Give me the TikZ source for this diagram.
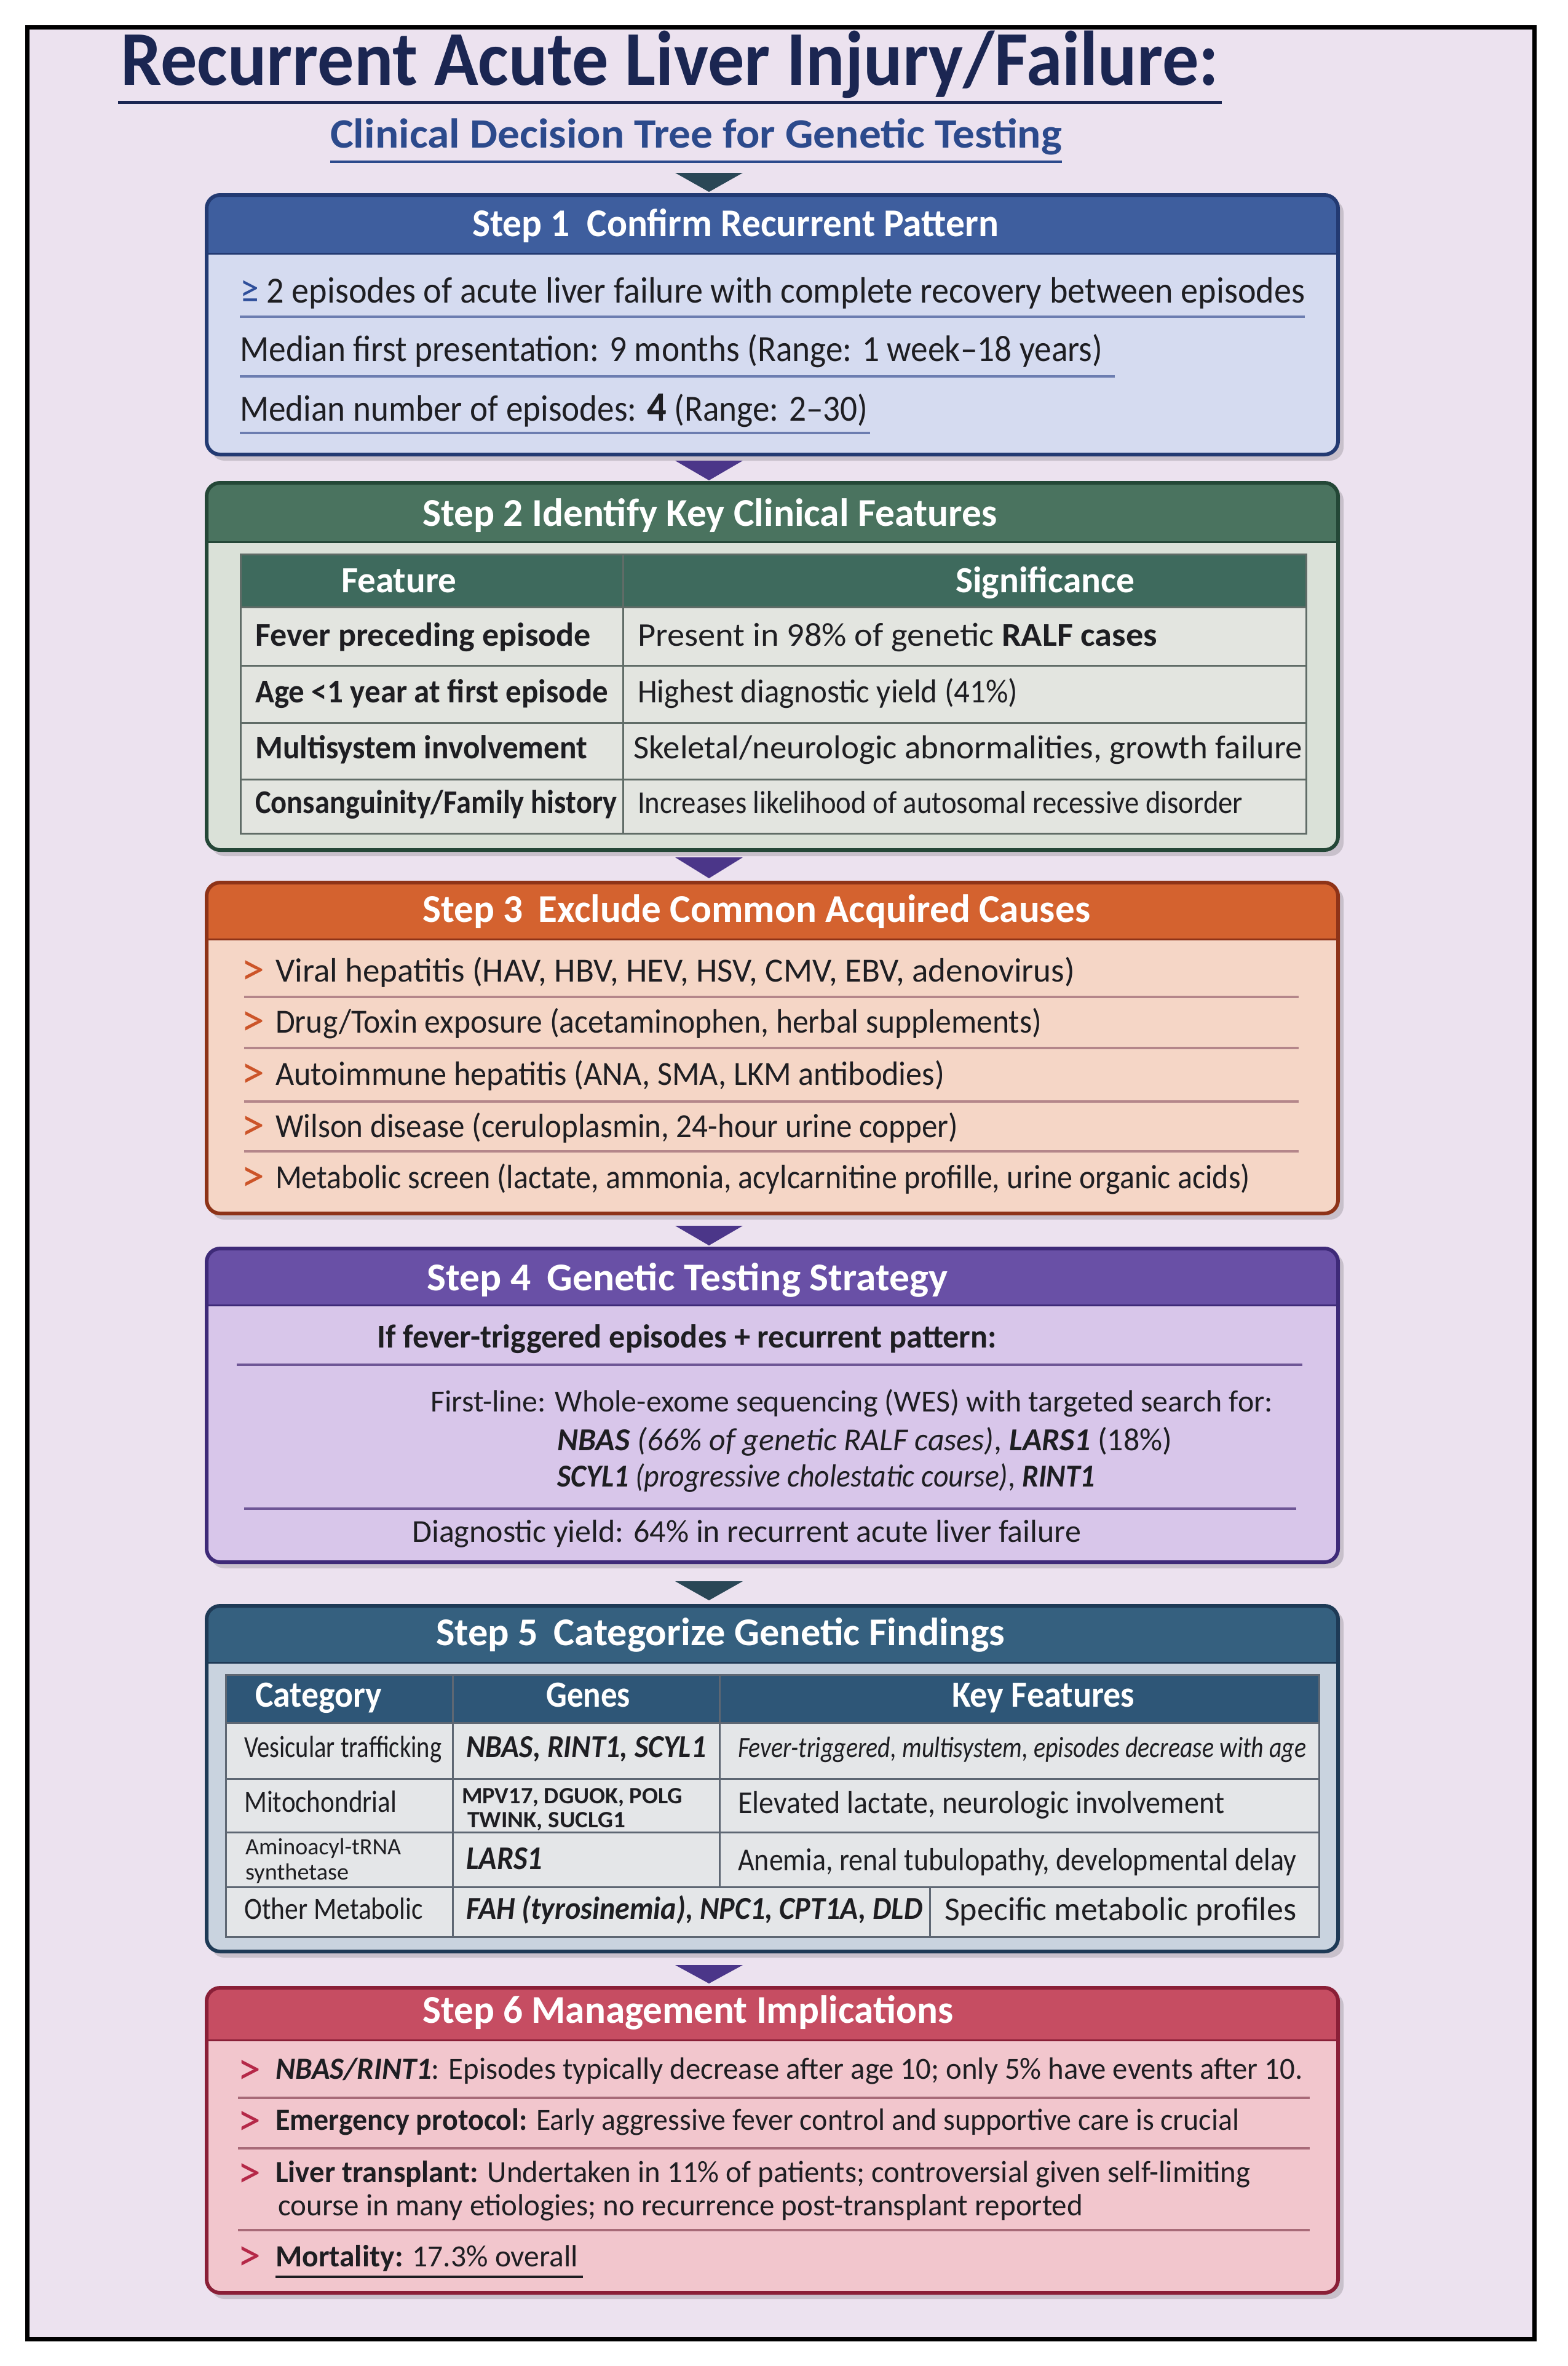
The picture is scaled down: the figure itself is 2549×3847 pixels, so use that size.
\documentclass[tikz,border=0pt]{standalone}
\usepackage{fontspec}
\setmainfont{Carlito}
\usepackage{graphicx}

\definecolor{pagebg}{HTML}{ECE2EF}
\definecolor{titlec}{HTML}{1B2652}
\definecolor{subc}{HTML}{2C4A8C}
\definecolor{tri1}{HTML}{2A4756}
\definecolor{tri2}{HTML}{4B3689}
\definecolor{h1c}{HTML}{3E5E9E}
\definecolor{b1c}{HTML}{D5DBF0}
\definecolor{e1c}{HTML}{233A72}
\definecolor{u1c}{HTML}{6C7DB0}
\definecolor{geqc}{HTML}{2E4E9A}
\definecolor{h2c}{HTML}{4A735F}
\definecolor{b2c}{HTML}{DAE1D8}
\definecolor{e2c}{HTML}{244737}
\definecolor{th2c}{HTML}{3E6A5D}
\definecolor{c2c}{HTML}{E3E5E0}
\definecolor{g2c}{HTML}{606C67}
\definecolor{h3c}{HTML}{D4622F}
\definecolor{b3c}{HTML}{F5D6C6}
\definecolor{e3c}{HTML}{8E3318}
\definecolor{u3c}{HTML}{B4868A}
\definecolor{a3c}{HTML}{CC5428}
\definecolor{h4c}{HTML}{6950A6}
\definecolor{b4c}{HTML}{D8C6EA}
\definecolor{e4c}{HTML}{3E2A78}
\definecolor{u4c}{HTML}{6E5696}
\definecolor{h5c}{HTML}{35607F}
\definecolor{b5c}{HTML}{C9D3DF}
\definecolor{e5c}{HTML}{1E3A56}
\definecolor{th5c}{HTML}{2E5677}
\definecolor{c5c}{HTML}{E4E6E8}
\definecolor{g5c}{HTML}{5E6773}
\definecolor{h6c}{HTML}{C64D62}
\definecolor{b6c}{HTML}{F2C6CD}
\definecolor{e6c}{HTML}{8A1F37}
\definecolor{u6c}{HTML}{A86A78}
\definecolor{a6c}{HTML}{B52848}
\definecolor{ink}{HTML}{1E1E22}

\newsavebox\fitbox
\newlength\fitlen
\newcommand\fitw[2]{\sbox\fitbox{#2}\setlength\fitlen{\wd\fitbox}\pgfmathsetmacro\fitr{#1/\fitlen}\scalebox{\fitr}[1]{\usebox\fitbox}}
\newcommand\fsz[1]{\fontsize{#1}{#1}\selectfont}
\newcommand\mytx[5]{\node[txt,font={#3}] (#1) at (#2) {\fitw{#4}{#5}};}
\newcommand\myhd[4]{\node[hdr] (#1) at (#2) {\fitw{#3}{#4}};}
\newcommand\myth[4]{\node[thd] (#1) at (#2) {\fitw{#3}{#4}};}
\newcommand\stepbox[6]{%
  \fill[black,opacity=.15,rounded corners=22] (343,#1+7) rectangle (2185,#3+10);
  \fill[#5,rounded corners=22] (336,#1) rectangle (2176,#3);
  \begin{scope}\clip (330,#1-10) rectangle (2182,#2);
  \fill[#4,rounded corners=22] (336,#1) rectangle (2176,#3);\end{scope}
  \draw[#6,line width=3] (336,#2) -- (2176,#2);
  \draw[#6,line width=6,rounded corners=22] (336,#1) rectangle (2176,#3);}

\begin{document}
\begin{tikzpicture}[x=1pt,y=-1pt,
  txt/.style={anchor=base west,inner sep=0pt,text=ink},
  hdr/.style={anchor=base west,inner sep=0pt,text=white,font={\fsz{64}\bfseries}},
  thd/.style={anchor=base west,inner sep=0pt,text=white,font={\fsz{60}\bfseries}},
  arr/.style={anchor=base west,inner sep=0pt,font={\fsz{76}}}]
\useasboundingbox (0,0) rectangle (2549,3847);
\fill[white] (0,0) rectangle (2549,3847);
\fill[pagebg] (44,44) rectangle (2495,3803);
\draw[black,line width=7] (44,44) rectangle (2495,3803);

% title
\node[txt,text=titlec,font={\fsz{126}\bfseries}] (title) at (196,138) {\fitw{1786}{Recurrent Acute Liver Injury/Failure:}};
\draw[titlec,line width=5] (192,166) -- (1987,166);
\node[txt,text=subc,font={\fsz{68}\bfseries}] (subtitle) at (537,240) {\fitw{1190}{Clinical Decision Tree for Genetic Testing}};
\draw[subc,line width=4] (537,263) -- (1727,263);

% triangles
\fill[tri1] (1098,281) -- (1208,281) -- (1153,312) -- cycle;
\fill[tri2] (1098,749) -- (1208,749) -- (1153,781) -- cycle;
\fill[tri2] (1098,1394) -- (1208,1394) -- (1153,1428) -- cycle;
\fill[tri2] (1098,1993) -- (1208,1993) -- (1153,2025) -- cycle;
\fill[tri1] (1098,2571) -- (1208,2571) -- (1153,2602) -- cycle;
\fill[tri2] (1098,3195) -- (1208,3195) -- (1153,3225) -- cycle;

% ---------- Step 1
\stepbox{317}{412}{739}{h1c}{b1c}{e1c}
\myhd{s1}{768,384}{856}{Step 1\hspace{.45em}Confirm Recurrent Pattern}
\mytx{n1a}{390,492}{\fsz{60}}{1732}{\textcolor{geqc}{\fsz{66}≥} 2 episodes of acute liver failure with complete recovery between episodes}
\mytx{n1b}{390,587}{\fsz{60}}{1403}{Median first presentation: 9 months (Range: 1 week–18 years)}
\mytx{n1c}{390,684}{\fsz{60}}{1021}{Median number of episodes: {\bfseries\fsz{68}4} (Range: 2–30)}
\draw[u1c,line width=4] (390,515) -- (2122,515);
\draw[u1c,line width=4] (390,612) -- (1813,612);
\draw[u1c,line width=4] (390,704) -- (1415,704);

% ---------- Step 2
\stepbox{785}{881}{1382}{h2c}{b2c}{e2c}
\myhd{s2}{687,855}{934}{Step 2 Identify Key Clinical Features}
\fill[th2c] (391,901) rectangle (2124,987);
\fill[c2c] (391,987) rectangle (2124,1355);
\foreach \yy in {987,1082,1175,1267} \draw[g2c,line width=3] (391,\yy) -- (2124,\yy);
\draw[g2c,line width=3] (1013,901) -- (1013,1355);
\draw[g2c,line width=3] (391,901) rectangle (2124,1355);
\myth{f1}{555,963}{187}{Feature}
\myth{f2}{1554,963}{291}{Significance}
\mytx{r1a}{415,1050}{\fsz{54}\bfseries}{546}{Fever preceding episode}
\mytx{r1b}{1037,1050}{\fsz{54}}{845}{Present in 98\% of genetic \textbf{RALF cases}}
\mytx{r2a}{415,1142}{\fsz{54}\bfseries}{574}{Age <1 year at first episode}
\mytx{r2b}{1037,1142}{\fsz{54}}{618}{Highest diagnostic yield (41\%)}
\mytx{r3a}{415,1233}{\fsz{54}\bfseries}{540}{Multisystem involvement}
\mytx{r3b}{1030,1233}{\fsz{54}}{1088}{Skeletal/neurologic abnormalities, growth failure}
\mytx{r4a}{415,1322}{\fsz{54}\bfseries}{588}{Consanguinity/Family history}
\mytx{r4b}{1037,1322}{\fsz{52}}{984}{Increases likelihood of autosomal recessive disorder}

% ---------- Step 3
\stepbox{1435}{1527}{1973}{h3c}{b3c}{e3c}
\myhd{s3}{687,1499}{1086}{Step 3\hspace{.4em}Exclude Common Acquired Causes}
\foreach \yy in {1621,1704,1791,1872} \draw[u3c,line width=4] (397,\yy) -- (2112,\yy);
\node[arr,text=a3c] (a31) at (392,1601) {>};
\node[arr,text=a3c] (a32) at (392,1684) {>};
\node[arr,text=a3c] (a33) at (392,1769) {>};
\node[arr,text=a3c] (a34) at (392,1854) {>};
\node[arr,text=a3c] (a35) at (392,1937) {>};
\mytx{c1}{448,1596}{\fsz{55}}{1300}{Viral hepatitis (HAV, HBV, HEV, HSV, CMV, EBV, adenovirus)}
\mytx{c2}{448,1679}{\fsz{55}}{1246}{Drug/Toxin exposure (acetaminophen, herbal supplements)}
\mytx{c3}{448,1764}{\fsz{55}}{1088}{Autoimmune hepatitis (ANA, SMA, LKM antibodies)}
\mytx{c4}{448,1849}{\fsz{55}}{1110}{Wilson disease (ceruloplasmin, 24-hour urine copper)}
\mytx{c5}{448,1932}{\fsz{55}}{1585}{Metabolic screen (lactate, ammonia, acylcarnitine profille, urine organic acids)}

% ---------- Step 4
\stepbox{2030}{2122}{2540}{h4c}{b4c}{e4c}
\myhd{s4}{694,2098}{847}{Step 4\hspace{.4em}Genetic Testing Strategy}
\mytx{g1}{613,2191}{\fsz{54}\bfseries}{1008}{If fever-triggered episodes + recurrent pattern:}
\draw[u4c,line width=4] (385,2219) -- (2118,2219);
\mytx{g2}{700,2295}{\fsz{50}}{1370}{First-line: Whole-exome sequencing (WES) with targeted search for:}
\mytx{g3}{906,2358}{\fsz{52}}{1000}{\textbf{\textit{NBAS}} \textit{(66\% of genetic RALF cases)}, \textbf{\textit{LARS1}} (18\%)}
\mytx{g4}{906,2417}{\fsz{52}}{875}{\textbf{\textit{SCYL1}} \textit{(progressive cholestatic course)}, \textbf{\textit{RINT1}}}
\draw[u4c,line width=4] (397,2453) -- (2108,2453);
\mytx{g5}{670,2507}{\fsz{52}}{1088}{Diagnostic yield: 64\% in recurrent acute liver failure}

% ---------- Step 5
\stepbox{2611}{2703}{3173}{h5c}{b5c}{e5c}
\myhd{s5}{709,2675}{925}{Step 5\hspace{.4em}Categorize Genetic Findings}
\fill[th5c] (367,2723) rectangle (2145,2801);
\fill[c5c] (367,2801) rectangle (2145,3149);
\foreach \yy in {2801,2892,2979,3068} \draw[g5c,line width=3] (367,\yy) -- (2145,\yy);
\draw[g5c,line width=3] (736,2723) -- (736,3149);
\draw[g5c,line width=3] (1170,2723) -- (1170,3068);
\draw[g5c,line width=3] (1512,3068) -- (1512,3149);
\draw[g5c,line width=3] (367,2723) rectangle (2145,3149);
\myth{k1}{415,2775}{206}{Category}
\myth{k2}{888,2775}{137}{Genes}
\myth{k3}{1548,2775}{297}{Key Features}
\mytx{v1}{397,2857}{\fsz{50}}{321}{Vesicular trafficking}
\mytx{v2}{758,2857}{\fsz{52}\bfseries\itshape}{390}{NBAS, RINT1, SCYL1}
\mytx{v3}{1200,2857}{\fsz{48}\itshape}{924}{Fever-triggered, multisystem, episodes decrease with age}
\mytx{m1}{397,2946}{\fsz{50}}{248}{Mitochondrial}
\mytx{m2}{751,2932}{\fsz{38}\bfseries}{359}{MPV17, DGUOK, POLG}
\mytx{m3}{760,2971}{\fsz{38}\bfseries}{257}{TWINK, SUCLG1}
\mytx{m4}{1200,2948}{\fsz{52}}{791}{Elevated lactate, neurologic involvement}
\mytx{q1}{399,3015}{\fsz{38}}{253}{Aminoacyl-tRNA}
\mytx{q2}{399,3056}{\fsz{38}}{168}{synthetase}
\mytx{q3}{758,3039}{\fsz{54}\bfseries\itshape}{124}{LARS1}
\mytx{q4}{1200,3041}{\fsz{52}}{908}{Anemia, renal tubulopathy, developmental delay}
\mytx{o1}{397,3120}{\fsz{50}}{291}{Other Metabolic}
\mytx{o2}{758,3120}{\fsz{52}\bfseries\itshape}{742}{FAH (tyrosinemia), NPC1, CPT1A, DLD}
\mytx{o3}{1536,3122}{\fsz{54}}{572}{Specific metabolic profiles}

% ---------- Step 6
\stepbox{3232}{3317}{3728}{h6c}{b6c}{e6c}
\myhd{s6}{687,3289}{863}{Step 6 Management Implications}
\foreach \yy in {3411,3493,3626} \draw[u6c,line width=4] (387,\yy) -- (2130,\yy);
\node[arr,text=a6c] (a61) at (386,3389) {>};
\node[arr,text=a6c] (a62) at (386,3472) {>};
\node[arr,text=a6c] (a63) at (386,3557) {>};
\node[arr,text=a6c] (a64) at (386,3692) {>};
\mytx{p1}{448,3380}{\fsz{50}}{1670}{\textbf{\textit{NBAS/RINT1}}: Episodes typically decrease after age 10; only 5\% have events after 10.}
\mytx{p2}{448,3463}{\fsz{50}}{1567}{\textbf{Emergency protocol:} Early aggressive fever control and supportive care is crucial}
\mytx{p3}{448,3548}{\fsz{50}}{1585}{\textbf{Liver transplant:} Undertaken in 11\% of patients; controversial given self-limiting}
\mytx{p4}{452,3602}{\fsz{50}}{1309}{course in many etiologies; no recurrence post-transplant reported}
\mytx{p5}{448,3685}{\fsz{50}}{492}{\textbf{Mortality:} 17.3\% overall}
\draw[ink,line width=4] (448,3702) -- (948,3702);
\end{tikzpicture}
\end{document}
